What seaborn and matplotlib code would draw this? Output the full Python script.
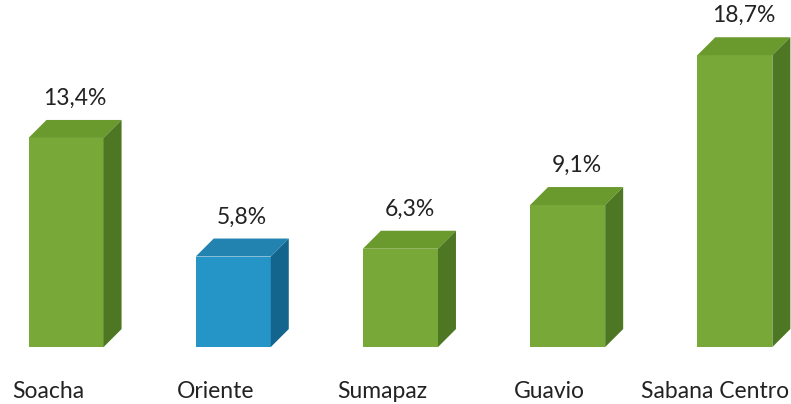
import matplotlib
matplotlib.use("Agg")
import matplotlib.pyplot as plt
import seaborn as sns
import pandas as pd
from matplotlib.patches import Polygon
from matplotlib.transforms import IdentityTransform

categories = ["Soacha", "Oriente", "Sumapaz", "Guavio", "Sabana Centro"]
values = [13.4, 5.8, 6.3, 9.1, 18.7]
value_labels = ["13,4%", "5,8%", "6,3%", "9,1%", "18,7%"]
front_colors = ["#78A938", "#2594C6", "#78A938", "#78A938", "#78A938"]
top_colors = ["#6A9A2E", "#2383B0", "#6A9A2E", "#6A9A2E", "#6A9A2E"]
side_colors = ["#4D7722", "#13658E", "#4D7722", "#4D7722", "#4D7722"]

sns.set_theme(style="white")
plt.rcParams["font.family"] = ["Lato", "DejaVu Sans"]

df = pd.DataFrame({"cat": categories, "val": values})

fig = plt.figure(figsize=(7.91, 4.04), dpi=100)
ax = fig.add_axes([0, 0, 1, 1])
sns.barplot(data=df, x="cat", y="val", hue="cat", palette=front_colors,
            width=0.449, legend=False, ax=ax, saturation=1, linewidth=0)

ax.set_xlim(-0.395, 4.336)
ax.set_ylim(-3.65, 22.24)
for s in ax.spines.values():
    s.set_visible(False)
ax.set_yticks([])
ax.set_xlabel("")
ax.set_ylabel("")
ax.set_xticks([])

fig.canvas.draw()
d = 18  # depth in pixels
for i, p in enumerate(ax.patches[:len(values)]):
    x0 = p.get_x()
    w = p.get_width()
    h = p.get_height()
    (X0, Y0) = ax.transData.transform((x0, 0))
    (X1, Y1) = ax.transData.transform((x0 + w, h))
    top = Polygon([(X0, Y1), (X1, Y1), (X1 + d, Y1 + d), (X0 + d, Y1 + d)],
                  closed=True, transform=IdentityTransform(),
                  facecolor=top_colors[i], edgecolor="none", zorder=5)
    side = Polygon([(X1, Y0), (X1, Y1), (X1 + d, Y1 + d), (X1 + d, Y0 + d)],
                   closed=True, transform=IdentityTransform(),
                   facecolor=side_colors[i], edgecolor="none", zorder=5)
    fig.add_artist(top)
    fig.add_artist(side)
    cx = (X0 + X1) / 2 + d / 2
    fig.text(cx / fig.bbox.width, (Y1 + d + 11) / fig.bbox.height,
             value_labels[i], ha="center", va="bottom", fontsize=16.5,
             color="#222222")
    if i == len(values) - 1:
        fig.text(789 / fig.bbox.width, 13 / fig.bbox.height, categories[i],
                 ha="right", va="center", fontsize=16.5, color="#222222")
    else:
        lx = (X0 + X1) / 2 - 18
        fig.text(lx / fig.bbox.width, 13 / fig.bbox.height, categories[i],
                 ha="center", va="center", fontsize=16.5, color="#222222")

fig.savefig("out.png", dpi=100)
